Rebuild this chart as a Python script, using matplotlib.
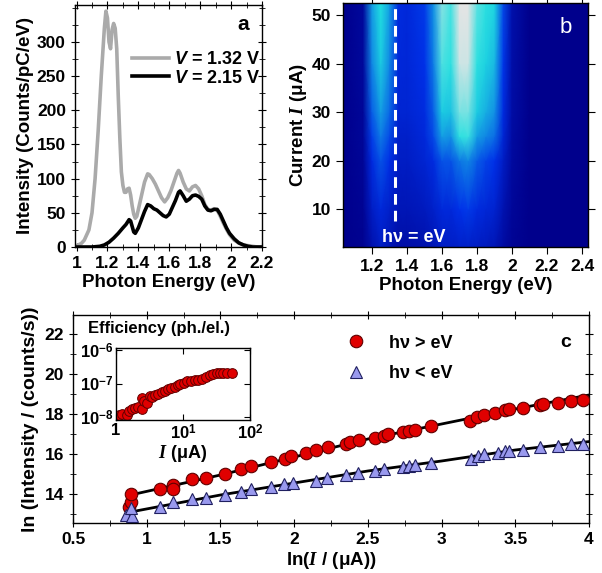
import numpy as np
import matplotlib
matplotlib.use("Agg")
import matplotlib.pyplot as plt
from matplotlib.colors import LinearSegmentedColormap
from matplotlib.ticker import MultipleLocator

plt.rcParams['font.family'] = ['Liberation Sans', 'DejaVu Sans']
plt.rcParams['font.weight'] = 'bold'
plt.rcParams['axes.labelweight'] = 'bold'
plt.rcParams['mathtext.fontset'] = 'custom'
plt.rcParams['mathtext.rm'] = 'Liberation Sans:bold'
plt.rcParams['mathtext.it'] = 'Liberation Serif:italic'
plt.rcParams['mathtext.sf'] = 'Liberation Sans:bold:italic'
plt.rcParams['axes.linewidth'] = 1.0

TICK_FS = 12.5
LABEL_FS = 13.5

# ---------------- panel a: spectra ----------------
gray_E = [1.00, 1.03, 1.05, 1.08, 1.10, 1.12, 1.14, 1.16, 1.18, 1.19, 1.20, 1.21,
          1.22, 1.23, 1.24, 1.25, 1.26, 1.27, 1.28, 1.29, 1.30, 1.31, 1.32, 1.33,
          1.34, 1.35, 1.36, 1.37, 1.38, 1.39, 1.40, 1.42, 1.44, 1.46, 1.47, 1.49,
          1.51, 1.53, 1.55, 1.57, 1.59, 1.61, 1.63, 1.65, 1.66, 1.67, 1.69, 1.71,
          1.73, 1.75, 1.77, 1.79, 1.81, 1.83, 1.85, 1.87, 1.89, 1.91, 1.93, 1.95,
          1.97, 1.99, 2.02, 2.05, 2.08, 2.11, 2.14, 2.17, 2.20]
gray_I = [2, 5, 10, 25, 50, 100, 170, 250, 320, 345, 335, 300,
          290, 318, 327, 320, 290, 220, 160, 110, 90, 80, 80, 85,
          86, 76, 60, 48, 42, 45, 55, 75, 95, 107, 106, 100,
          92, 82, 72, 66, 72, 82, 95, 108, 112, 108, 95, 85,
          82, 88, 90, 85, 75, 62, 55, 54, 56, 54, 45, 35,
          26, 18, 10, 6, 3, 2, 1, 0, 0]

black_E = [1.00, 1.05, 1.10, 1.15, 1.18, 1.21, 1.24, 1.27, 1.30, 1.32, 1.34, 1.35,
           1.36, 1.37, 1.38, 1.40, 1.42, 1.44, 1.46, 1.48, 1.50, 1.52, 1.54, 1.56,
           1.58, 1.60, 1.62, 1.64, 1.66, 1.67, 1.69, 1.71, 1.73, 1.75, 1.77, 1.79,
           1.81, 1.83, 1.85, 1.87, 1.89, 1.91, 1.93, 1.95, 1.97, 1.99, 2.02, 2.05,
           2.08, 2.11, 2.14, 2.20]
black_I = [0, 0, 0, 1, 3, 7, 13, 20, 28, 33, 40, 38,
           30, 22, 20, 28, 40, 52, 62, 60, 56, 54, 50, 46,
           44, 48, 58, 68, 80, 82, 75, 67, 70, 75, 76, 74,
           70, 60, 54, 53, 55, 55, 48, 38, 28, 20, 12, 6,
           3, 1, 0, 0]

# ---------------- panel b: intensity map ----------------
map_E = [1.03, 1.15, 1.20, 1.25, 1.30, 1.35, 1.40, 1.50, 1.55, 1.60,
         1.65, 1.70, 1.75, 1.80, 1.85, 1.90, 1.95, 2.00, 2.10, 2.44]
map_current = [2.2, 10, 20, 25, 30, 40, 52.5]
map_level = [
    [0, 0.02, 0.12, 0.20, 0.15, 0.10, 0.10, 0.12, 0.15, 0.20, 0.20, 0.22, 0.22, 0.20, 0.18, 0.15, 0.08, 0.03, 0.0, 0],
    [0, 0.03, 0.20, 0.28, 0.22, 0.15, 0.15, 0.18, 0.22, 0.28, 0.28, 0.33, 0.35, 0.30, 0.27, 0.24, 0.13, 0.05, 0.0, 0],
    [0, 0.04, 0.30, 0.40, 0.32, 0.20, 0.20, 0.25, 0.30, 0.40, 0.40, 0.47, 0.50, 0.42, 0.37, 0.33, 0.20, 0.07, 0.0, 0],
    [0, 0.05, 0.36, 0.48, 0.38, 0.22, 0.22, 0.28, 0.38, 0.55, 0.52, 0.70, 0.72, 0.55, 0.50, 0.45, 0.26, 0.08, 0.0, 0],
    [0, 0.05, 0.42, 0.55, 0.44, 0.25, 0.25, 0.30, 0.42, 0.64, 0.62, 0.82, 0.82, 0.64, 0.58, 0.52, 0.30, 0.09, 0.0, 0],
    [0, 0.06, 0.50, 0.64, 0.50, 0.28, 0.27, 0.33, 0.48, 0.75, 0.70, 0.96, 0.96, 0.70, 0.65, 0.60, 0.34, 0.10, 0.0, 0],
    [0, 0.06, 0.55, 0.68, 0.55, 0.30, 0.28, 0.35, 0.52, 0.85, 0.74, 1.00, 1.00, 0.78, 0.70, 0.66, 0.38, 0.11, 0.0, 0],
]
hv_E = 1.33

# ---------------- panel c: ln-ln data ----------------
red_x = [0.878, 0.896, 0.891, 1.09, 1.18, 1.18, 1.31, 1.40, 1.53, 1.64, 1.71, 1.84, 1.94,
         1.98, 2.08, 2.15, 2.23, 2.35, 2.38, 2.44, 2.55, 2.61, 2.64, 2.74, 2.78, 2.82,
         2.93, 3.19, 3.24, 3.29, 3.36, 3.43, 3.46, 3.55, 3.67, 3.69, 3.79, 3.88, 3.96]
red_y = [13.34, 13.62, 13.99, 14.24, 14.45, 14.25, 14.74, 14.79, 15.02, 15.24, 15.42, 15.59, 15.77,
         15.92, 16.06, 16.22, 16.36, 16.51, 16.62, 16.71, 16.82, 16.91, 17.01, 17.09, 17.14, 17.18,
         17.41, 17.63, 17.83, 17.94, 18.03, 18.18, 18.23, 18.31, 18.43, 18.49, 18.53, 18.63, 18.69]
blue_x = [0.857, 0.90, 0.896, 1.09, 1.18, 1.31, 1.40, 1.53, 1.64, 1.71, 1.84, 1.93, 1.99,
          2.15, 2.22, 2.35, 2.43, 2.55, 2.61, 2.74, 2.78, 2.82, 2.93, 3.20, 3.25, 3.29,
          3.38, 3.43, 3.46, 3.55, 3.67, 3.79, 3.88, 3.96]
blue_y = [12.95, 12.90, 13.29, 13.37, 13.62, 13.74, 13.79, 13.97, 14.12, 14.24, 14.34, 14.49, 14.57,
          14.67, 14.79, 14.95, 15.07, 15.17, 15.24, 15.37, 15.42, 15.47, 15.57, 15.76, 15.91, 15.99,
          16.06, 16.17, 16.17, 16.21, 16.34, 16.42, 16.49, 16.52]
fit_red_x = [0.89, 1.5, 2.0, 2.5, 3.0, 3.5, 4.0]
fit_red_y = [13.95, 14.95, 15.85, 16.75, 17.5, 18.25, 18.95]
fit_blue_x = [0.89, 1.5, 2.0, 2.5, 3.0, 3.5, 4.0]
fit_blue_y = [13.1, 13.95, 14.55, 15.15, 15.65, 16.2, 16.62]

# inset: efficiency vs current
eff_I = [1.05, 1.12, 1.25, 1.44, 1.55, 1.71, 1.9, 2.15, 2.41, 2.41, 2.6, 2.87, 3.21, 3.5,
         3.82, 4.3, 4.8, 5.4, 6.0, 6.7, 7.6, 8.3, 9.0, 10.2, 11.3, 13, 15.1, 17, 19,
         22, 25.4, 28, 32, 36, 40, 46, 53.6]
eff_val = [1.1e-8, 1.12e-8, 1.2e-8, 1.16e-8, 1.5e-8, 1.8e-8, 1.9e-8, 2.06e-8, 3.6e-8, 1.8e-8, 3.0e-8,
           2.6e-8, 4.3e-8, 4.1e-8, 4.7e-8, 5.0e-8, 5.7e-8, 6.0e-8, 6.8e-8, 7.2e-8, 8.0e-8, 8.8e-8,
           1.0e-7, 1.05e-7, 1.17e-7, 1.2e-7, 1.25e-7, 1.3e-7, 1.4e-7, 1.55e-7, 1.75e-7, 1.9e-7,
           2.06e-7, 2.0e-7, 2.1e-7, 2.05e-7, 2.1e-7]

fig = plt.figure(figsize=(6.02, 5.73), dpi=100)

# ---- panel a ----
ax_a = fig.add_axes([75/602, 1 - 247/573, 187/602, 242/573])
ax_a.plot(gray_E, gray_I, color='#aaaaaa', lw=2.6, label=r'$\mathsf{V}$ = 1.32 V')
ax_a.plot(black_E, black_I, color='black', lw=2.6, label=r'$\mathsf{V}$ = 2.15 V')
ax_a.set_xlim(0.99, 2.2)
ax_a.set_ylim(0, 354)
ax_a.set_xticks([1, 1.2, 1.4, 1.6, 1.8, 2, 2.2])
ax_a.set_xticklabels(['1', '1.2', '1.4', '1.6', '1.8', '2', '2.2'])
ax_a.xaxis.set_minor_locator(MultipleLocator(0.1))
ax_a.set_yticks([0, 50, 100, 150, 200, 250, 300])
ax_a.yaxis.set_minor_locator(MultipleLocator(25))
ax_a.tick_params(which='both', direction='inout', top=True, right=True, labelsize=TICK_FS)
ax_a.tick_params(which='major', length=6)
ax_a.tick_params(which='minor', length=4)
ax_a.set_xlabel('Photon Energy (eV)', fontsize=LABEL_FS, labelpad=2)
ax_a.set_ylabel('Intensity (Counts/pC/eV)', fontsize=LABEL_FS, labelpad=2)
ax_a.legend(loc='upper right', bbox_to_anchor=(1.03, 0.84), frameon=False, fontsize=13,
            handlelength=2.0, handletextpad=0.3, labelspacing=0.1, borderaxespad=0)
ax_a.text(0.9, 0.92, 'a', transform=ax_a.transAxes, fontsize=15, ha='center', va='center')

# ---- panel b ----
cmap = LinearSegmentedColormap.from_list('bmap', [(0.0, '#00008c'), (0.33, '#0030e8'),
                                                  (0.68, '#20e0e0'), (1.0, '#e4e4e4')])
ax_b = fig.add_axes([343/602, 1 - 247/573, 245/602, 244/573])
ax_b.pcolormesh(map_E, map_current, np.array(map_level), cmap=cmap, shading='gouraud',
                vmin=0, vmax=1)
ax_b.set_xlim(1.034, 2.434)
ax_b.set_ylim(2.2, 52.5)
ax_b.axvline(hv_E, ymin=0.105, ymax=1, color='white', lw=2.2, dashes=(3.5, 2))
ax_b.set_xticks([1.2, 1.4, 1.6, 1.8, 2, 2.2, 2.4])
ax_b.set_xticklabels(['1.2', '1.4', '1.6', '1.8', '2', '2.2', '2.4'])
ax_b.set_yticks([10, 20, 30, 40, 50])
ax_b.tick_params(which='both', direction='out', top=True, right=True, labelsize=TICK_FS, length=5)
ax_b.set_xlabel('Photon Energy (eV)', fontsize=LABEL_FS, labelpad=2)
ax_b.set_ylabel(r'Current $I$ (μA)', fontsize=LABEL_FS, labelpad=2)
ax_b.text(0.91, 0.9, 'b', transform=ax_b.transAxes, fontsize=16, color='white',
          ha='center', va='center', fontweight='normal')
ax_b.text(0.16, 0.04, 'hν = eV', transform=ax_b.transAxes, fontsize=13, color='white',
          ha='left', va='center')

# ---- panel c ----
ax_c = fig.add_axes([73/602, 1 - 523/573, 516/602, 208/573])
ax_c.plot(fit_red_x, fit_red_y, color='black', lw=2, zorder=2)
ax_c.plot(fit_blue_x, fit_blue_y, color='black', lw=2, zorder=2)
ax_c.plot(red_x, red_y, 'o', ms=9, mfc='#e00000', mec='#600000', mew=0.8,
          label='hν > eV', zorder=3)
ax_c.plot(blue_x, blue_y, '^', ms=9, mfc='#9999ee', mec='#202060', mew=0.8,
          label='hν < eV', zorder=3)
ax_c.set_xlim(0.5, 4)
ax_c.set_ylim(12.55, 22.95)
ax_c.set_xticks([0.5, 1, 1.5, 2, 2.5, 3, 3.5, 4])
ax_c.set_xticklabels(['0.5', '1', '1.5', '2', '2.5', '3', '3.5', '4'])
ax_c.xaxis.set_minor_locator(MultipleLocator(0.25))
ax_c.set_yticks([14, 16, 18, 20, 22])
ax_c.yaxis.set_minor_locator(MultipleLocator(1))
ax_c.tick_params(which='both', direction='inout', top=True, right=True, labelsize=TICK_FS)
ax_c.tick_params(which='major', length=6)
ax_c.tick_params(which='minor', length=4)
ax_c.set_xlabel(r'ln($I$ / (μA))', fontsize=LABEL_FS, labelpad=2)
ax_c.set_ylabel(r'ln (Intensity / (counts/s))', fontsize=LABEL_FS + 0.5, labelpad=4)
ax_c.legend(loc='upper left', bbox_to_anchor=(0.5, 0.94), frameon=False, fontsize=13,
            handletextpad=0.8, labelspacing=0.75, borderaxespad=0)
ax_c.text(0.955, 0.87, 'c', transform=ax_c.transAxes, fontsize=14, ha='center', va='center')

# ---- inset ----
ax_in = fig.add_axes([116/602, 1 - 420/573, 134/602, 72/573])
ax_in.plot(eff_I, eff_val, 'o', ms=7, mfc='#e00000', mec='#600000', mew=0.7)
ax_in.set_xscale('log')
ax_in.set_yscale('log')
ax_in.set_xlim(1, 100)
ax_in.set_ylim(8.2e-9, 1.15e-6)
ax_in.set_xticks([1, 10, 100])
ax_in.set_xticklabels(['1', r'$10^{1}$', r'$10^{2}$'])
ax_in.set_yticks([1e-8, 1e-7, 1e-6])
ax_in.set_yticklabels([r'$10^{-8}$', r'$10^{-7}$', r'$10^{-6}$'])
ax_in.minorticks_off()
ax_in.tick_params(direction='in', top=True, right=True, labelsize=12, length=4, pad=2)
ax_in.set_xlabel(r'$I$ (μA)', fontsize=13, labelpad=1)
ax_in.text(-0.21, 1.27, 'Efficiency (ph./el.)', transform=ax_in.transAxes, fontsize=12,
           ha='left', va='center')

fig.savefig('out.png', dpi=100)
